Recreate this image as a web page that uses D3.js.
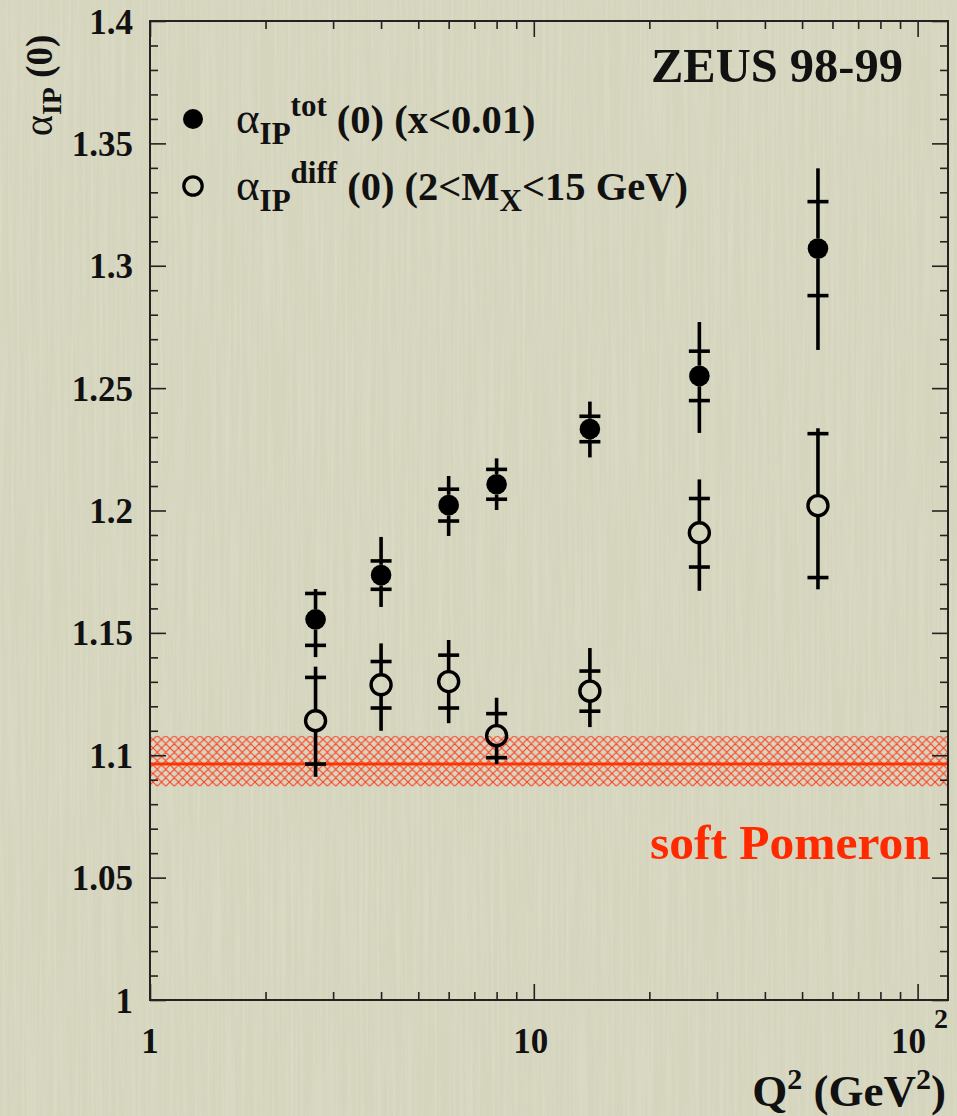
<!DOCTYPE html>
<html>
<head>
<meta charset="utf-8">
<script src="https://cdn.jsdelivr.net/npm/d3@7"></script>
<style>
  html, body { margin: 0; padding: 0; background: #d5d4bd; }
  svg { display: block; }
  text { font-family: "Liberation Serif", "Times New Roman", serif; font-weight: bold; }
</style>
</head>
<body>
<svg id="chart" width="957" height="1116"></svg>
<script>
// ---------------- data ----------------
const q2 = [2.7, 4, 6, 8, 14, 27, 55];

const totValue     = [1.1555, 1.1736, 1.2022, 1.2107, 1.2333, 1.2550, 1.3070];
const totStat      = [0.0106, 0.0058, 0.0065, 0.0061, 0.0052, 0.0101, 0.0192];
const totErrPlus   = [0.0124, 0.0156, 0.0119, 0.0106, 0.0112, 0.0220, 0.0328];
const totErrMinus  = [0.0154, 0.0130, 0.0126, 0.0105, 0.0116, 0.0233, 0.0414];

const diffValue    = [1.1141, 1.1288, 1.1301, 1.1080, 1.1262, 1.1909, 1.2020];
const diffStat     = [0.0177, 0.0095, 0.0108, 0.0090, 0.0082, 0.0140, 0.0294];
const diffErrPlus  = [0.0221, 0.0169, 0.0170, 0.0155, 0.0176, 0.0218, 0.0316];
const diffErrMinus = [0.0229, 0.0188, 0.0170, 0.0116, 0.0147, 0.0237, 0.0342];

const softPomeron      = 1.0964;
const softPomeronPlus  = 0.0115;
const softPomeronMinus = 0.0091;

const xMajorTicks = [1, 10, 100];
const xMinorTicks = [2,3,4,5,6,7,8,9,20,30,40,50,60,70,80,90];
const yMajorTicks = [1, 1.05, 1.1, 1.15, 1.2, 1.25, 1.3, 1.35, 1.4];
const yTickLabels = ["1", "1.05", "1.1", "1.15", "1.2", "1.25", "1.3", "1.35", "1.4"];
const yMinorTicks = d3.range(0, 41).map(i => +(1 + i * 0.01).toFixed(2)).filter(v => !yMajorTicks.includes(v));

// ---------------- layout ----------------
const svg = d3.select("#chart");
const L = 150, R = 948, T = 21, B = 1000;
const x = d3.scaleLog().domain([1, 120]).range([L, R]);
const y = d3.scaleLinear().domain([1, 1.4]).range([B, T]);

const bg = "#d5d4bd";
svg.append("rect").attr("width", 957).attr("height", 1116).attr("fill", bg);

// subtle vertical paper texture
const defs = svg.append("defs");
const filt = defs.append("filter").attr("id", "paper").attr("x", 0).attr("y", 0).attr("width", "100%").attr("height", "100%");
filt.append("feTurbulence").attr("type", "fractalNoise").attr("baseFrequency", "0.35 0.006").attr("numOctaves", 2).attr("seed", 3).attr("result", "n");
filt.append("feColorMatrix").attr("type", "matrix")
  .attr("values", "0 0 0 0 1  0 0 0 0 1  0 0 0 0 0.95  0 0 0 0.5 -0.18");
svg.append("rect").attr("width", 957).attr("height", 1116).attr("filter", "url(#paper)").attr("opacity", 0.6);

// hatch pattern for soft pomeron band
const pat = defs.append("pattern").attr("id", "hatch").attr("patternUnits", "userSpaceOnUse")
  .attr("width", 8.5).attr("height", 8.5);
pat.append("path").attr("d", "M0,0 L8.5,8.5 M8.5,0 L0,8.5 M-1,7.5 L1,9.5 M7.5,-1 L9.5,1")
  .attr("stroke", "#ff3b1f").attr("stroke-width", 1.1).attr("fill", "none");

// band
svg.append("rect")
  .attr("x", L).attr("width", R - L)
  .attr("y", y(softPomeron + softPomeronPlus))
  .attr("height", y(softPomeron - softPomeronMinus) - y(softPomeron + softPomeronPlus))
  .attr("fill", "url(#hatch)");
svg.append("line")
  .attr("x1", L).attr("x2", R)
  .attr("y1", y(softPomeron)).attr("y2", y(softPomeron))
  .attr("stroke", "#ff3300").attr("stroke-width", 3);

// ---------------- axes ----------------
const axisColor = "#222";
function styleAxis(g) {
  g.select(".domain").remove();
  g.selectAll("line").attr("stroke", axisColor).attr("stroke-width", 1.6);
}
// bottom
svg.append("g").attr("transform", `translate(0,${B})`)
  .call(d3.axisBottom(x).tickValues(xMajorTicks).tickSize(-16).tickFormat("")).call(styleAxis);
svg.append("g").attr("transform", `translate(0,${B})`)
  .call(d3.axisBottom(x).tickValues(xMinorTicks).tickSize(-8).tickFormat("")).call(styleAxis);
// top
svg.append("g").attr("transform", `translate(0,${T})`)
  .call(d3.axisTop(x).tickValues(xMajorTicks).tickSize(-16).tickFormat("")).call(styleAxis);
svg.append("g").attr("transform", `translate(0,${T})`)
  .call(d3.axisTop(x).tickValues(xMinorTicks).tickSize(-8).tickFormat("")).call(styleAxis);
// left
svg.append("g").attr("transform", `translate(${L},0)`)
  .call(d3.axisLeft(y).tickValues(yMajorTicks).tickSize(-16).tickFormat("")).call(styleAxis);
svg.append("g").attr("transform", `translate(${L},0)`)
  .call(d3.axisLeft(y).tickValues(yMinorTicks).tickSize(-8).tickFormat("")).call(styleAxis);
// right
svg.append("g").attr("transform", `translate(${R},0)`)
  .call(d3.axisRight(y).tickValues(yMajorTicks).tickSize(-16).tickFormat("")).call(styleAxis);
svg.append("g").attr("transform", `translate(${R},0)`)
  .call(d3.axisRight(y).tickValues(yMinorTicks).tickSize(-8).tickFormat("")).call(styleAxis);

// frame
svg.append("rect").attr("x", L).attr("y", T).attr("width", R - L).attr("height", B - T)
  .attr("fill", "none").attr("stroke", axisColor).attr("stroke-width", 2);

// y tick labels
svg.append("g").selectAll("text").data(yMajorTicks).join("text")
  .attr("x", 133).attr("y", d => y(d)).attr("dy", "0.36em")
  .attr("text-anchor", "end").attr("font-size", 35).attr("fill", "#111")
  .text((d, i) => yTickLabels[i]);

// x tick labels
const xl = svg.append("g").attr("font-size", 35).attr("fill", "#111");
xl.append("text").attr("x", x(1)).attr("y", 1053).attr("text-anchor", "middle").text("1");
xl.append("text").attr("x", x(10) - 3).attr("y", 1053).attr("text-anchor", "middle").text("10");
const t100 = xl.append("text").attr("x", x(100) + 2).attr("y", 1053).attr("text-anchor", "middle");
t100.append("tspan").text("10");
t100.append("tspan").attr("dx", 8).attr("dy", -25).attr("font-size", 28).text("2");

// axis titles
const xt = svg.append("text").attr("x", 946).attr("y", 1106).attr("text-anchor", "end")
  .attr("font-size", 45).attr("fill", "#111");
xt.append("tspan").text("Q");
xt.append("tspan").attr("dy", -17).attr("font-size", 30).text("2");
xt.append("tspan").attr("dy", 17).text(" (GeV");
xt.append("tspan").attr("dy", -17).attr("font-size", 30).text("2");
xt.append("tspan").attr("dy", 17).text(")");

const yt = svg.append("text").attr("transform", "translate(52,136) rotate(-90)")
  .attr("font-size", 37).attr("fill", "#111");
yt.append("tspan").attr("font-weight", "normal").attr("font-size", 40).text("α");
yt.append("tspan").attr("dy", 9).attr("font-size", 28).text("IP");
yt.append("tspan").attr("dy", -9).text(" (0)");

// ---------------- data marks ----------------
function drawSeries(vals, stat, ep, em, filled) {
  const g = svg.append("g");
  const r = 10.3, cap = 10.5, sw = 3.6;
  vals.forEach((v, i) => {
    const cx = x(q2[i]), cy = y(v);
    const yTop = y(v + ep[i]), yBot = y(v - em[i]);
    g.append("line").attr("x1", cx).attr("x2", cx).attr("y1", yTop).attr("y2", Math.min(cy - r, yBot))
      .attr("stroke", "#000").attr("stroke-width", sw);
    g.append("line").attr("x1", cx).attr("x2", cx).attr("y1", Math.max(cy + r, yTop)).attr("y2", yBot)
      .attr("stroke", "#000").attr("stroke-width", sw);
    [v + stat[i], v - stat[i]].forEach(s => {
      g.append("line").attr("x1", cx - cap).attr("x2", cx + cap).attr("y1", y(s)).attr("y2", y(s))
        .attr("stroke", "#000").attr("stroke-width", sw);
    });
    g.append("circle").attr("cx", cx).attr("cy", cy)
      .attr("r", filled ? r : r - 0.3)
      .attr("fill", filled ? "#000" : "none")
      .attr("stroke", "#000").attr("stroke-width", filled ? 0 : 3.4);
  });
}
drawSeries(totValue, totStat, totErrPlus, totErrMinus, true);
drawSeries(diffValue, diffStat, diffErrPlus, diffErrMinus, false);

// ---------------- texts ----------------
svg.append("text").attr("x", 651).attr("y", 82).attr("font-size", 48.5).attr("fill", "#111").text("ZEUS 98-99");
svg.append("text").attr("x", 650).attr("y", 859).attr("font-size", 49.5).attr("fill", "#ff2a00").text("soft Pomeron");

// legend
svg.append("circle").attr("cx", 193).attr("cy", 119).attr("r", 10).attr("fill", "#000");
svg.append("circle").attr("cx", 193).attr("cy", 186).attr("r", 9.2).attr("fill", "none").attr("stroke", "#000").attr("stroke-width", 3.2);

function legendText(yb, sup, tail) {
  const t = svg.append("text").attr("x", 236).attr("y", yb).attr("font-size", 40.5).attr("fill", "#111");
  t.append("tspan").attr("font-weight", "normal").attr("font-size", 45).text("α");
  t.append("tspan").attr("dy", 11).attr("font-size", 31).text("IP");
  t.append("tspan").attr("dy", -28).attr("font-size", 31).text(sup);
  t.append("tspan").attr("dy", 17).text(" (0) (");
  tail(t);
}
legendText(133, "tot", t => { t.append("tspan").text("x<0.01)"); });
legendText(200, "diff", t => {
  t.append("tspan").text("2<M");
  t.append("tspan").attr("dy", 11).attr("font-size", 31).text("X");
  t.append("tspan").attr("dy", -11).text("<15 GeV)");
});
</script>
</body>
</html>
